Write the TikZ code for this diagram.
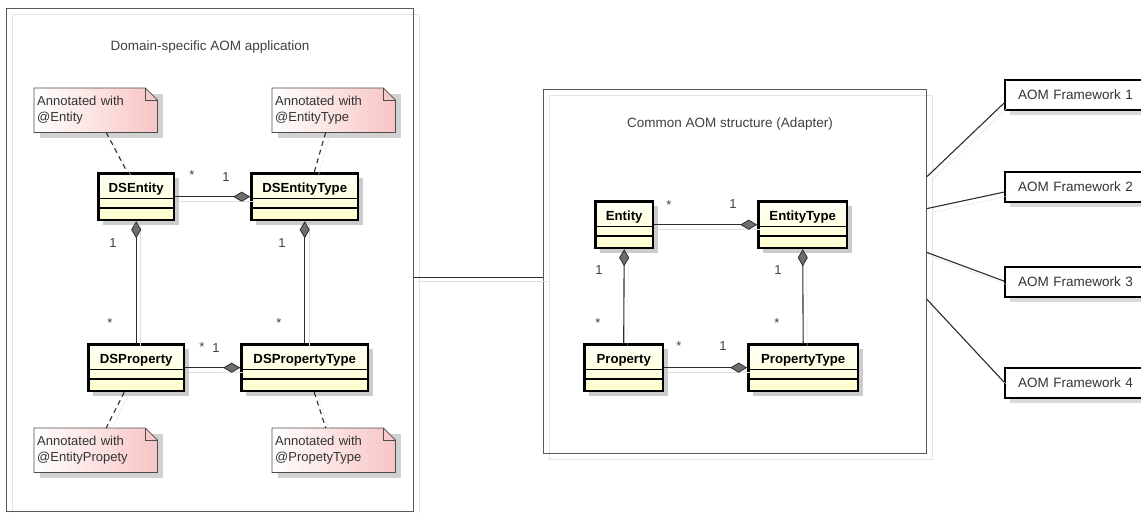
\documentclass[tikz,border=0pt]{standalone}
\usepackage{fontspec}
\setmainfont{Liberation Sans}
\usetikzlibrary{arrows.meta,shadows,backgrounds,calc}
\definecolor{clsTop}{RGB}{255,255,246}
\definecolor{clsBot}{RGB}{255,255,205}
\definecolor{notePink}{RGB}{248,196,196}
\definecolor{lineGray}{RGB}{45,45,45}
\definecolor{diaGray}{RGB}{110,110,110}
\newcommand\mynotebg[1]{%
  \fill[black!18] ([xshift=6pt,yshift=-6pt]#1.north west) rectangle ([xshift=6pt,yshift=-6pt]#1.south east);
  \path[draw=black!70, line width=0.8pt, left color=white, right color=notePink]
    (#1.north west) -- ([xshift=-12pt]#1.north east) -- ([yshift=-12pt]#1.north east)
    -- (#1.south east) -- (#1.south west) -- cycle;
  \draw[black!70, line width=0.8pt] ([xshift=-12pt]#1.north east) -- ([xshift=-12pt,yshift=-12pt]#1.north east) -- ([yshift=-12pt]#1.north east);
}
\begin{document}
\begin{tikzpicture}[x=1pt, y=-1pt,
  lshadow/.style={preaction={draw=black!12, -, transform canvas={shift={(4pt,-4pt)}}}},
  conn/.style={draw=lineGray, line width=1.1pt, lshadow},
  assoc/.style={conn, -{Diamond[length=17pt,width=10pt,fill=diaGray,line width=0.8pt]}},
  dashconn/.style={conn, dash pattern=on 5pt off 4pt},
  frame/.style={draw=black!65, line width=1.1pt, anchor=north west, inner sep=0pt,
    preaction={draw=black!10, line width=1.1pt, transform canvas={shift={(6pt,-6pt)}}}},
  cls/.style={draw=black, line width=2.4pt, font=\bfseries\fontsize{13.2}{15}\selectfont,
    top color=clsTop, bottom color=clsBot, inner xsep=0pt, inner ysep=0pt,
    text height=19pt, text depth=27.6pt, anchor=north west,
    drop shadow={shadow xshift=5pt, shadow yshift=-5pt, fill=black!20, opacity=1},
    path picture={
      \draw[line width=1.2pt] ([yshift=-25pt]path picture bounding box.north west) -- ([yshift=-25pt]path picture bounding box.north east);
      \draw[line width=1.2pt] ([yshift=-34.5pt]path picture bounding box.north west) -- ([yshift=-34.5pt]path picture bounding box.north east);}},
  notebox/.style={anchor=north west, text width=117pt, inner xsep=3pt, inner ysep=0pt,
    minimum height=44pt, align=left, font=\fontsize{13}{16}\selectfont, text=black!80},
  fw/.style={draw=black, line width=2.2pt, fill=white, anchor=north west, minimum height=30pt,
    text width=120pt, inner xsep=13pt, inner ysep=0pt, align=left,
    font=\fontsize{13.5}{15}\selectfont, text=black!80,
    drop shadow={shadow xshift=5pt, shadow yshift=-5pt, fill=black!15, opacity=1}},
  title/.style={font=\fontsize{13.5}{16}\selectfont, text=black!75},
  mult/.style={font=\fontsize{13}{15}\selectfont, text=black!75, inner sep=0pt}
]
\useasboundingbox (0,0) rectangle (1141,512);

% frames
\node[frame, minimum width=407pt, minimum height=503pt] (F1) at (6,8) {};
\node[frame, minimum width=383pt, minimum height=364pt] (F2) at (543,89) {};
\node[title] (T1) at (210,47) {Domain-specific AOM application};
\node[title] (T2) at (730,124) {Common AOM structure (Adapter)};

% notes
\node[notebox] (n1) at (34,88) {Annotated with\\@Entity};
\node[notebox] (n2) at (272,88) {Annotated with\\@EntityType};
\node[notebox] (n3) at (34,428) {Annotated with\\@EntityPropety};
\node[notebox] (n4) at (272,428) {Annotated with\\@PropetyType};

% classes
\node[cls, minimum width=75.6pt]  (DSEntity) at (97.2,172.2) {DSEntity};
\node[cls, minimum width=106.6pt] (DSEntityType) at (250.2,172.2) {DSEntityType};
\node[cls, minimum width=95.6pt]  (DSProperty) at (87.2,343.2) {DSProperty};
\node[cls, minimum width=126.6pt] (DSPropertyType) at (240.2,343.2) {DSPropertyType};
\node[cls, minimum width=57.6pt]  (Entity) at (594.2,200.2) {Entity};
\node[cls, minimum width=88.6pt]  (EntityType) at (757.2,200.2) {EntityType};
\node[cls, minimum width=78.6pt]  (Property) at (583.2,343.2) {Property};
\node[cls, minimum width=109.6pt] (PropertyType) at (747.2,343.2) {PropertyType};

% frameworks
\node[fw] (fw1) at (1004,79) {AOM Framework 1};
\node[fw] (fw2) at (1004,171) {AOM Framework 2};
\node[fw] (fw3) at (1004,266) {AOM Framework 3};
\node[fw] (fw4) at (1004,367) {AOM Framework 4};

% associations
\draw[assoc] (DSEntity.east) -- (DSEntityType.west);
\draw[assoc] (DSProperty.north) -- (DSEntity.south);
\draw[assoc] (DSPropertyType.north) -- (DSEntityType.south);
\draw[assoc] (DSProperty.east) -- (DSPropertyType.west);
\draw[assoc] (Entity.east) -- (EntityType.west);
\draw[assoc] (Property.north) -- (Entity.south);
\draw[assoc] (PropertyType.north) -- (EntityType.south);
\draw[assoc] (Property.east) -- (PropertyType.west);

% note connectors
\draw[dashconn] ($(n1.south)+(10.5,0)$) -- ($(DSEntity.north)+(-9,0)$);
\draw[dashconn] ($(n2.south)+(-8,0)$) -- ($(DSEntityType.north)+(9.5,0)$);
\draw[dashconn] ($(DSProperty.south)+(-12,0)$) -- ($(n3.north)+(10.5,0)$);
\draw[dashconn] ($(DSPropertyType.south)+(9.5,0)$) -- ($(n4.north)+(-8,0)$);

% frame connectors
\draw[conn] ($(F1.east)+(0,17.5)$) -- ($(F2.west)+(0,6)$);
\draw[conn] ($(F2.east)+(0,-95)$) -- ($(fw1.west)+(0,8)$);
\draw[conn] ($(F2.east)+(0,-63)$) -- ($(fw2.west)+(0,5)$);
\draw[conn] ($(F2.east)+(0,-19)$) -- ($(fw3.west)+(0,-1)$);
\draw[conn] ($(F2.east)+(0,28)$) -- ($(fw4.west)+(0,-1)$);

% multiplicities
\node[mult] (m1) at (192,175) {*};
\node[mult] (m2) at (226,177) {1};
\node[mult] (m3) at (113,243) {1};
\node[mult] (m4) at (282,243) {1};
\node[mult] (m5) at (110,323) {*};
\node[mult] (m6) at (279,323) {*};
\node[mult] (m7) at (202,347) {*};
\node[mult] (m8) at (216,348) {1};
\node[mult] (m9) at (669,205) {*};
\node[mult] (m10) at (733,204) {1};
\node[mult] (m11) at (599,270) {1};
\node[mult] (m12) at (778,270) {1};
\node[mult] (m13) at (598,323) {*};
\node[mult] (m14) at (777,323) {*};
\node[mult] (m15) at (679,346) {*};
\node[mult] (m16) at (723,346) {1};

\begin{scope}[on background layer]
  \mynotebg{n1}
  \mynotebg{n2}
  \mynotebg{n3}
  \mynotebg{n4}
\end{scope}
\end{tikzpicture}
\end{document}
